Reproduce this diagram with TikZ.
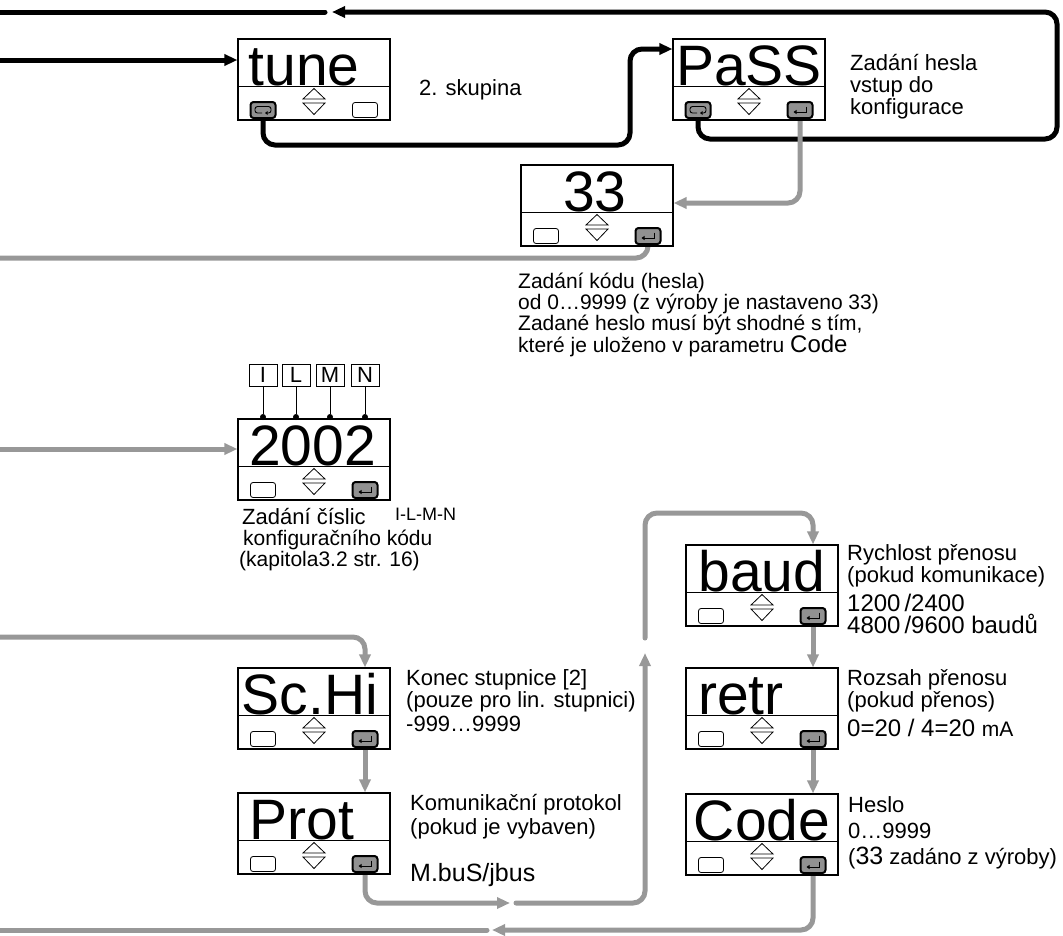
\documentclass[tikz,border=0pt]{standalone}
\usepackage{fontspec}
\setmainfont{Liberation Sans}
\usetikzlibrary{arrows.meta,calc,backgrounds}
\definecolor{gry}{RGB}{152,152,152}
\definecolor{btnfill}{RGB}{145,145,145}
\tikzset{
  panelbox/.style={draw=black, line width=1.1pt, minimum width=152pt, minimum height=81pt, inner sep=0pt},
  disp/.style={inner sep=0pt, font=\fontsize{57}{57}\selectfont},
  btnoff/.style={draw=black, fill=white, line width=0.8pt, rounded corners=2.5pt, minimum width=25pt, minimum height=15pt, inner sep=0pt},
  btnon/.style={draw=black, fill=btnfill, line width=2pt, rounded corners=3pt, minimum width=25pt, minimum height=16pt, inner sep=0pt},
  glyph/.style={line width=0.9pt},
  blk/.style={draw=black, line width=5pt, rounded corners=12pt, line cap=round},
  gline/.style={draw=gry, line width=5pt, rounded corners=12pt, line cap=round},
  tipb/.style={-{Triangle[length=13pt,width=11pt]}},
  ann/.style={anchor=base west, inner sep=0pt, font=\fontsize{22}{22}\selectfont},
  anns/.style={anchor=base west, inner sep=0pt, font=\fontsize{21}{21}\selectfont},
  big/.style={font=\fontsize{25}{25}\selectfont},
  lbox/.style={draw=black, line width=1pt, inner sep=0pt, minimum width=28pt, minimum height=22pt, font=\fontsize{22}{22}\selectfont},
  dot/.style={circle, fill=black, inner sep=0pt, minimum size=6pt},
}
% #1 name, #2 x left, #3 y top, #4 text, #5 horizontal shift of text
\newcommand\panel[5]{%
  \node[panelbox] (#1) at (#2+76,#3+40.5) {};
  \draw[line width=0.8pt] (#2,#3+47) -- (#2+152,#3+47);
  \draw[line width=0.8pt] (#2+65,#3+60) -- (#2+76,#3+49.5) -- (#2+87,#3+60) -- cycle;
  \draw[line width=0.8pt] (#2+65,#3+64) -- (#2+87,#3+64) -- (#2+76,#3+75.5) -- cycle;
  \node[disp, anchor=base] (#1t) at (#2+76+#5,#3+46.5) {#4};
}
\newcommand\boff[3]{\node[btnoff] (#1) at (#2,#3) {};}
\newcommand\benter[3]{\node[btnon] (#1) at (#2,#3) {};
  \draw[glyph,-{Triangle[length=3pt,width=4pt]}] ($(#1)+(6,-3.5)$) -- ($(#1)+(6,2)$) -- ($(#1)+(-6.5,2)$);}
\newcommand\bloop[3]{\node[btnon] (#1) at (#2,#3) {};
  \draw[glyph,rounded corners=2.5pt,-{Triangle[length=2.5pt,width=3.5pt]}] ($(#1)+(-1,3)$) -- ($(#1)+(-8,3)$) -- ($(#1)+(-8,-3.5)$) -- ($(#1)+(8,-3.5)$) -- ($(#1)+(8,3)$) -- ($(#1)+(2,3)$);}
\newcommand\stdbtns[3]{\boff{#1L}{#2+25}{#3+71}\benter{#1R}{#2+127}{#3+71}}

\begin{document}
\begin{tikzpicture}[x=1pt,y=-1pt]
\useasboundingbox (0,0) rectangle (1063,935);

% ---------- panels ----------
\panel{tune}{238}{39}{tune}{-10}
\bloop{tuneL}{263}{110}\boff{tuneR}{365}{110}
\panel{pass}{673}{39}{PaSS}{0}
\bloop{passL}{698}{110}\benter{passR}{800}{110}
\panel{pthree}{521}{165}{33}{-2}
\stdbtns{pthree}{521}{165}
\panel{pcode}{238}{419}{2002}{-1.5}
\stdbtns{pcode}{238}{419}
\panel{schi}{238}{668}{Sc.Hi}{-4}
\stdbtns{schi}{238}{668}
\panel{prot}{238}{793}{Prot}{-12}
\stdbtns{prot}{238}{793}
\panel{baud}{686}{545}{baud}{0}
\stdbtns{baud}{686}{545}
\panel{retr}{686}{668}{retr}{-21}
\stdbtns{retr}{686}{668}
\panel{code}{686}{794}{Code}{0}
\stdbtns{code}{686}{794}

% ---------- I L M N ----------
\node[lbox] (bI) at (263,375) {I};
\node[lbox] (bL) at (296,375) {L};
\node[lbox] (bM) at (330,375) {M};
\node[lbox] (bN) at (365,375) {N};
\node[dot] (dI) at (263,417) {};
\node[dot] (dL) at (296,417) {};
\node[dot] (dM) at (330,417) {};
\node[dot] (dN) at (365,417) {};
\draw[line width=0.8pt] (bI.south) -- (dI);
\draw[line width=0.8pt] (bL.south) -- (dL);
\draw[line width=0.8pt] (bM.south) -- (dM);
\draw[line width=0.8pt] (bN.south) -- (dN);

% ---------- coordinates ----------
\coordinate (e0) at (0,12);
\coordinate (s0) at (325,12);
\coordinate (a0) at (332,12);
\coordinate (e1) at (0,60);
\coordinate (k1) at (630,49);
\coordinate (k2) at (0,203);
\coordinate (e2) at (0,258);
\coordinate (e3) at (0,449);
\coordinate (e4) at (0,637);
\coordinate (k3) at (510,903);
\coordinate (k4) at (516,903);
\coordinate (k5) at (645,653);
\coordinate (k6) at (645,638);
\coordinate (k7) at (813,513);
\coordinate (k8) at (492,930);
\coordinate (k9) at (487,930);
\coordinate (e5) at (0,930);

% ---------- connectors ----------
\begin{scope}[on background layer]
\draw[blk,tipb] (passL.south) |- (1057,139) -- (1057,12) -- (a0);
\draw[blk] (s0) -- (e0);
\draw[blk,tipb] (e1) -- (tune.west |- e1);
\draw[blk,tipb] (tuneL.south) |- (630,145) -- (k1) -- (pass.west |- k1);
\draw[gline,tipb] (passR.south) |- (pthree.east |- k2);
\draw[gline] (pthreeR.south) |- (e2);
\draw[gline,tipb] (e3) -- (pcode.west |- e3);
\draw[gline,tipb] (e4) -| (schiR |- schi.north);
\draw[gline,tipb] (schiR.south) -- (protR |- prot.north);
\draw[gline,tipb] (protR.south) |- (k3);
\draw[gline,tipb] (k4) -| (k5);
\draw[gline,tipb] (k6) |- (k7) -- (baudR |- baud.north);
\draw[gline,tipb] (baudR.south) -- (retrR |- retr.north);
\draw[gline,tipb] (retrR.south) -- (codeR |- code.north);
\draw[gline,tipb] (codeR.south) |- (k8);
\draw[gline] (k9) -- (e5);
\end{scope}

% ---------- annotations ----------
\node[ann] (t1) at (419,95) {2. skupina};
\node[ann] (t2) at (850,70) {Zadání hesla};
\node[ann] (t3) at (850,92) {vstup do};
\node[ann] (t4) at (850,114) {konfigurace};

\node[anns] (t5) at (518,288) {Zadání kódu (hesla)};
\node[anns] (t6) at (518,309) {od 0…9999 (z výroby je nastaveno 33)};
\node[anns] (t7) at (518,330) {Zadané heslo musí být shodné s tím,};
\node[anns] (t8) at (518,352) {které je uloženo v parametru {\fontsize{24}{24}\selectfont Code}};

\node[ann] (t9) at (242,524) {Zadání číslic};
\node[ann,font=\fontsize{18}{18}\selectfont] (t10) at (395,520) {I-L-M-N};
\node[anns] (t11) at (243,545) {konfiguračního kódu};
\node[anns] (t12) at (239,566) {(kapitola3.2 str. 16)};

\node[ann] (t13) at (406,685) {Konec stupnice [2]};
\node[ann] (t14) at (406,707) {(pouze pro lin. stupnici)};
\node[ann] (t15) at (406,731) {-999…9999};

\node[ann] (t16) at (410,810) {Komunikační protokol};
\node[ann] (t17) at (410,834) {(pokud je vybaven)};
\node[ann,big] (t18) at (410,881) {M.buS/jbus};

\node[ann] (t19) at (847,560) {Rychlost přenosu};
\node[ann] (t20) at (847,582) {(pokud komunikace)};
\node[ann,font=\fontsize{24}{24}\selectfont] (t21) at (847,611) {1200\,/2400};
\node[ann,font=\fontsize{24}{24}\selectfont] (t22) at (847,633) {4800\,/9600 baudů};

\node[ann] (t23) at (847,685) {Rozsah přenosu};
\node[ann] (t24) at (847,707) {(pokud přenos)};
\node[ann,font=\fontsize{24}{24}\selectfont] (t25) at (847,736) {0=20 / 4=20 {\fontsize{21}{21}\selectfont mA}};

\node[ann] (t26) at (848,812) {Heslo};
\node[ann] (t27) at (848,838) {0…9999};
\node[ann] (t28) at (848,864) {({\fontsize{25}{25}\selectfont 33} zadáno z výroby)};
\end{tikzpicture}
\end{document}
